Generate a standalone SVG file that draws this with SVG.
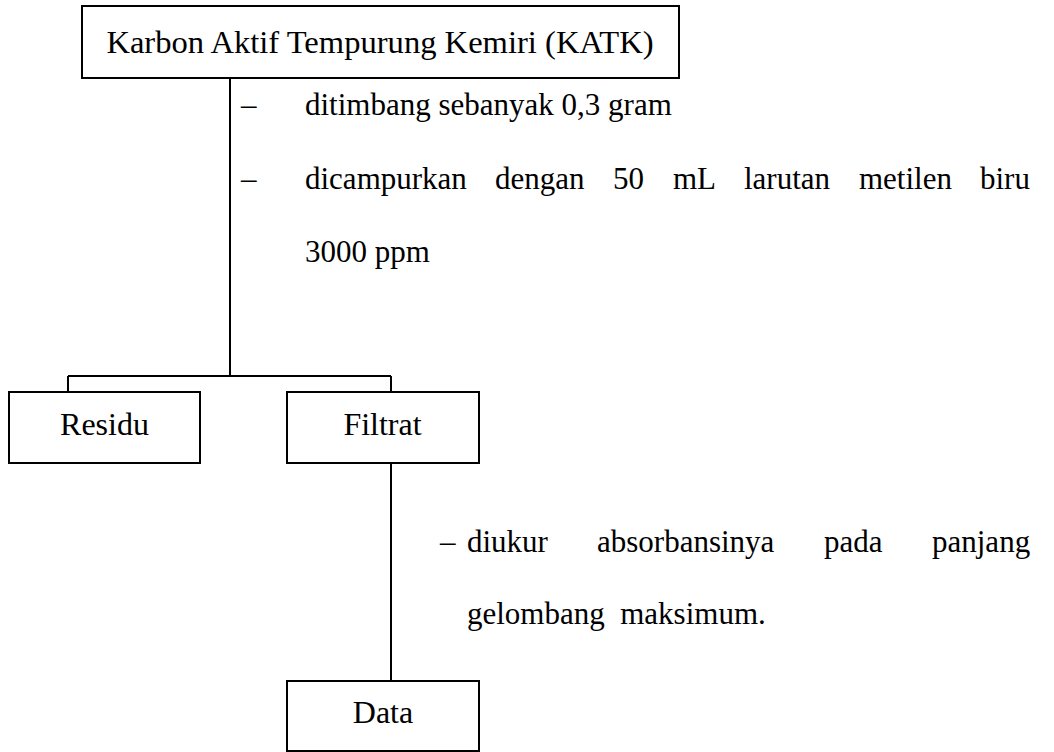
<svg xmlns="http://www.w3.org/2000/svg" width="1054" height="752" viewBox="0 0 1054 752">
<style>
.box{fill:#fff;stroke:#000;stroke-width:2}
.ln{fill:none;stroke:#000;stroke-width:2}
text{font-family:"Liberation Serif","Times New Roman",serif;fill:#000}
.lbl{font-size:32px;text-anchor:middle}
.ttl{font-size:32.6px;text-anchor:middle}
.ann{font-size:31px}
</style>
<rect width="1054" height="752" fill="#fff"/>
<g id="connectors">
<path class="ln" d="M230,78 V376"/>
<path class="ln" d="M68,376 H391"/>
<path class="ln" d="M68,376 V392"/>
<path class="ln" d="M391,376 V392"/>
<path class="ln" d="M391,463 V681"/>
</g>
<g id="node-katk">
<rect class="box" x="82" y="6" width="597" height="72"/>
<text class="ttl" x="380" y="52.5">Karbon Aktif Tempurung Kemiri (KATK)</text>
</g>
<g id="note-1">
<text class="ann" x="241" y="115">–</text>
<text class="ann" x="305" y="115">ditimbang sebanyak 0,3 gram</text>
<text class="ann" x="241" y="189">–</text>
<text class="ann" y="189"><tspan x="305">dicampurkan</tspan><tspan x="495">dengan</tspan><tspan x="613">50</tspan><tspan x="673">mL</tspan><tspan x="744">larutan</tspan><tspan x="859">metilen</tspan><tspan x="980">biru</tspan></text>
<text class="ann" x="305" y="262">3000 ppm</text>
</g>
<g id="node-residu">
<rect class="box" x="9" y="392" width="191" height="71"/>
<text class="lbl" x="104.5" y="435">Residu</text>
</g>
<g id="node-filtrat">
<rect class="box" x="287" y="392" width="192" height="71"/>
<text class="lbl" x="382.5" y="435">Filtrat</text>
</g>
<g id="note-2">
<text class="ann" x="440" y="552">–</text>
<text class="ann" y="552"><tspan x="467">diukur</tspan><tspan x="597">absorbansinya</tspan><tspan x="824">pada</tspan><tspan x="932">panjang</tspan></text>
<text class="ann" x="467" y="624" xml:space="preserve">gelombang  maksimum.</text>
</g>
<g id="node-data">
<rect class="box" x="287" y="681" width="192" height="70"/>
<text class="lbl" x="383" y="723">Data</text>
</g>
</svg>
